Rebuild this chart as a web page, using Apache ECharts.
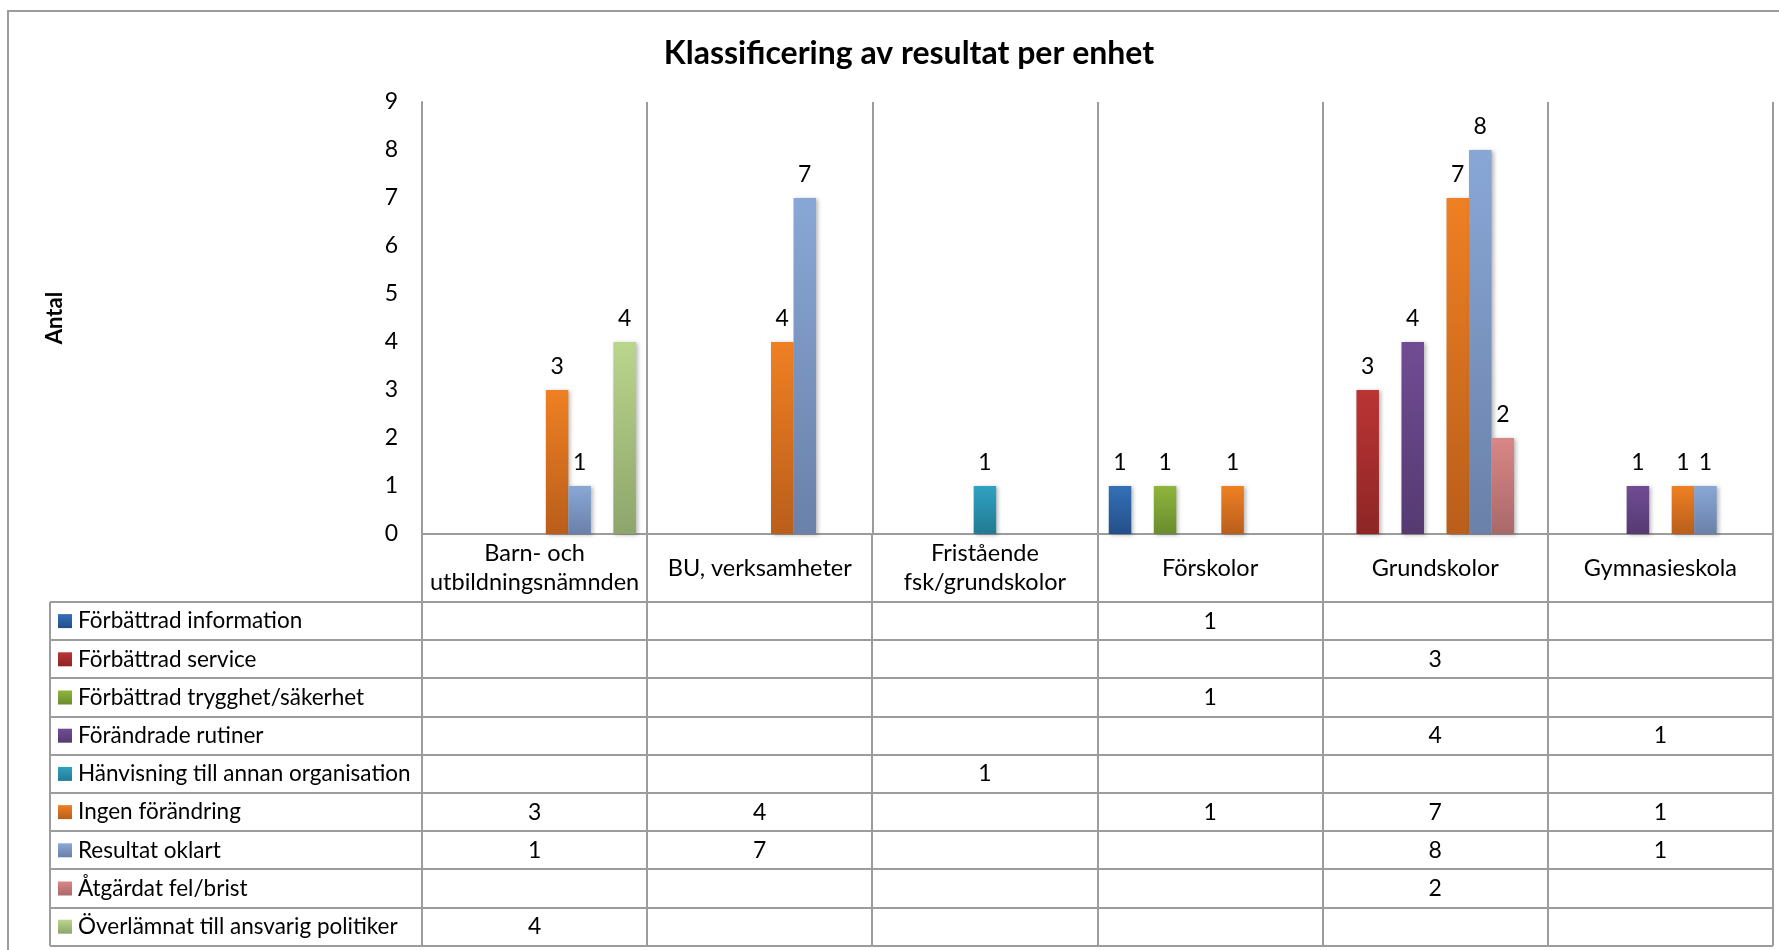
<!DOCTYPE html>
<html><head><meta charset="utf-8">
<script src="https://cdn.jsdelivr.net/npm/echarts@6/dist/echarts.min.js"></script>
<style>html,body{margin:0;padding:0;background:#fff}#c{width:1779px;height:950px}</style>
</head><body><div id="c"></div><script>
// ---- data ----
const categories = ['Barn- och\nutbildningsnämnden', 'BU, verksamheter', 'Fristående\nfsk/grundskolor', 'Förskolor', 'Grundskolor', 'Gymnasieskola'];
const seriesNames = ['Förbättrad information', 'Förbättrad service', 'Förbättrad trygghet/säkerhet', 'Förändrade rutiner', 'Hänvisning till annan organisation', 'Ingen förändring', 'Resultat oklart', 'Åtgärdat fel/brist', 'Överlämnat till ansvarig politiker'];
const forbattradInformation = [null, null, null, 1, null, null];
const forbattradService     = [null, null, null, null, 3, null];
const forbattradTrygghet    = [null, null, null, 1, null, null];
const forandradeRutiner     = [null, null, null, null, 4, 1];
const hanvisning            = [null, null, 1, null, null, null];
const ingenForandring       = [3, 4, null, 1, 7, 1];
const resultatOklart        = [1, 7, null, null, 8, 1];
const atgardatFel           = [null, null, null, null, 2, null];
const overlamnat            = [4, null, null, null, null, null];
const seriesValues = [forbattradInformation, forbattradService, forbattradTrygghet, forandradeRutiner, hanvisning, ingenForandring, resultatOklart, atgardatFel, overlamnat];
const yTicks = [0, 1, 2, 3, 4, 5, 6, 7, 8, 9];

// ---- styles ----
const colorTop    = ['#3470B6', '#BA3534', '#8FB53C', '#714C94', '#30A2C2', '#EF8023', '#89A7D6', '#D98686', '#BAD58C'];
const colorBottom = ['#244F89', '#8E2525', '#6A8B2E', '#553A71', '#227A93', '#B95E1B', '#6A81A9', '#A96969', '#8DA56B'];
const FONT = 'Lato, Carlito, Calibri, "Noto Sans", sans-serif';
const LINE = '#9c9c9c';
const FS = 23;
const FS_TABLE = 22.5;

function grad(i) {
  return new echarts.graphic.LinearGradient(0, 0, 0, 1, [
    { offset: 0, color: colorTop[i] }, { offset: 1, color: colorBottom[i] }
  ]);
}

const chart = echarts.init(document.getElementById('c'), null, { renderer: 'canvas' });

chart.setOption({
  backgroundColor: '#fff',
  animation: false,
  title: {
    text: 'Klassificering av resultat per enhet',
    left: 904, top: 33, textAlign: 'center',
    textStyle: { fontFamily: FONT, fontSize: 32, fontWeight: 'bold', color: '#000' }
  },
  grid: { left: 422, right: 6, top: 102, bottom: 416, containLabel: false },
  xAxis: {
    type: 'category', data: categories,
    axisLine: { show: true, lineStyle: { color: LINE, width: 2 } },
    axisTick: { show: false },
    splitLine: { show: true, lineStyle: { color: LINE, width: 2 } },
    axisLabel: {
      show: true, interval: 0, margin: 34, verticalAlign: 'middle', align: 'center',
      fontFamily: FONT, fontSize: 23.5, lineHeight: 29, color: '#000'
    }
  },
  yAxis: {
    type: 'value', min: yTicks[0], max: yTicks[yTicks.length - 1], interval: 1,
    name: 'Antal', nameLocation: 'middle', nameRotate: 90, nameGap: 356,
    nameTextStyle: { fontFamily: FONT, fontSize: 22, fontWeight: 'bold', color: '#000' },
    axisLine: { show: true, lineStyle: { color: LINE, width: 2 } },
    axisTick: { show: false },
    splitLine: { show: false },
    axisLabel: { margin: 24, fontFamily: FONT, fontSize: FS, color: '#000' }
  },
  series: seriesNames.map((name, i) => ({
    name, type: 'bar', data: seriesValues[i],
    barGap: '0%', barCategoryGap: '10%',
    itemStyle: { color: grad(i), shadowColor: 'rgba(0,0,0,0.28)', shadowBlur: 4, shadowOffsetX: 2, shadowOffsetY: 1 },
    label: { show: true, position: 'top', distance: 12, fontFamily: FONT, fontSize: FS, color: '#000' }
  }))
});

function buildTable() {
  const g = [];
  const c0 = chart.convertToPixel({ xAxisIndex: 0 }, 0);
  const c1 = chart.convertToPixel({ xAxisIndex: 0 }, 1);
  const bw = c1 - c0;
  const axisY = chart.convertToPixel({ yAxisIndex: 0 }, 0);
  const left = c0 - bw / 2;
  const right = left + bw * categories.length;
  const tableLeft = 50;
  const headerBottom = axisY + 68;
  const rowH = 38.2;
  const bottom = headerBottom + rowH * seriesNames.length;
  const ls = { stroke: LINE, lineWidth: 2 };
  for (let r = 0; r <= seriesNames.length; r++) {
    const y = Math.round(headerBottom + r * rowH);
    g.push({ type: 'line', shape: { x1: tableLeft, y1: y, x2: right, y2: y }, style: ls, z: 10 });
  }
  g.push({ type: 'line', shape: { x1: tableLeft, y1: headerBottom, x2: tableLeft, y2: bottom }, style: ls, z: 10 });
  for (let k = 0; k <= categories.length; k++) {
    const x = Math.round(left + k * bw);
    g.push({ type: 'line', shape: { x1: x, y1: axisY, x2: x, y2: bottom }, style: ls, z: 10 });
  }
  seriesNames.forEach((name, i) => {
    const cy = headerBottom + (i + 0.5) * rowH;
    g.push({ type: 'rect', shape: { x: 58, y: cy - 7, width: 14, height: 14 }, style: { fill: grad(i) }, z: 11 });
    g.push({ type: 'text', x: 78, y: cy, style: { text: name, fontFamily: FONT, fontSize: FS_TABLE, fill: '#000', verticalAlign: 'middle', align: 'left' }, z: 11 });
    seriesValues[i].forEach((v, j) => {
      if (v === null) return;
      const cx = chart.convertToPixel({ xAxisIndex: 0 }, j);
      g.push({ type: 'text', x: cx, y: cy, style: { text: String(v), fontFamily: FONT, fontSize: FS, fill: '#000', verticalAlign: 'middle', align: 'center' }, z: 11 });
    });
  });
  g.push({ type: 'rect', shape: { x: 8, y: 11, width: 1800, height: 1000 }, style: { fill: 'none', stroke: LINE, lineWidth: 2 }, z: 1 });
  chart.setOption({ graphic: g });
}
buildTable();
</script></body></html>
